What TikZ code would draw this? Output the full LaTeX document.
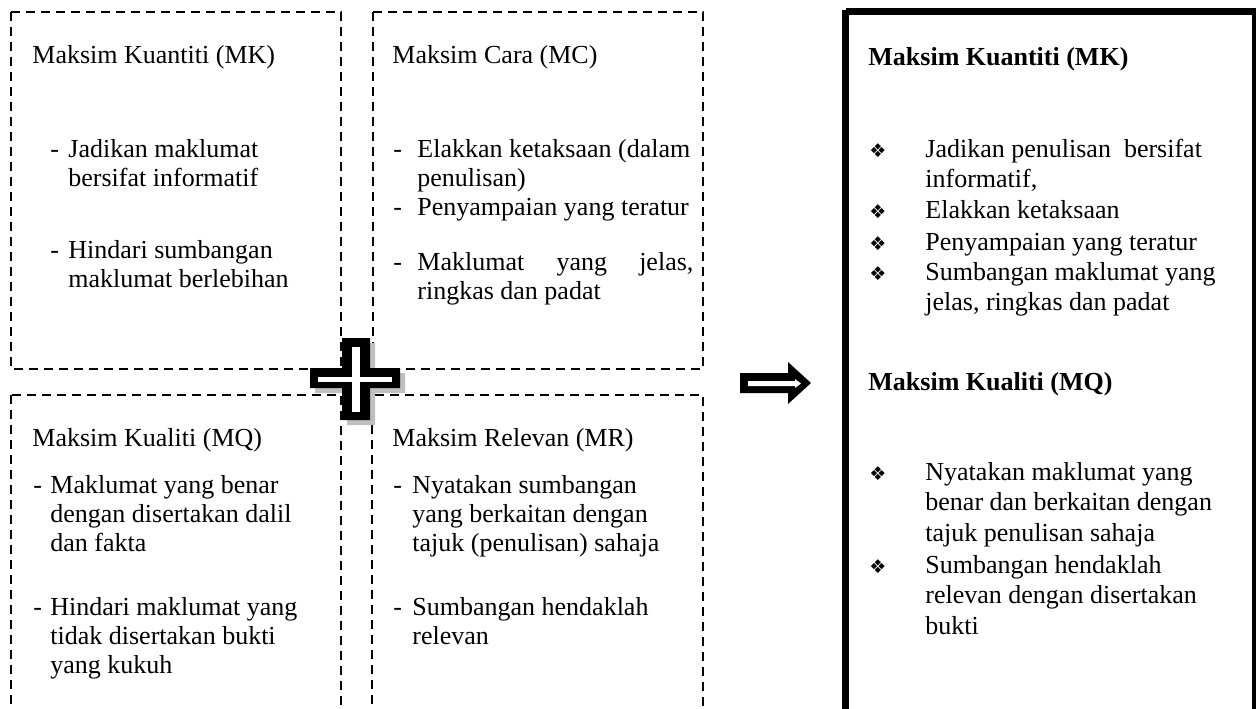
\documentclass[tikz,border=0pt]{standalone}
\usepackage{fontspec}
\setmainfont{Liberation Serif}
\newfontfamily\symfont{DejaVu Sans}
\newcommand{\rows}[1]{\begin{tabular}[t]{@{}l@{}}#1\end{tabular}}

\begin{document}
\begin{tikzpicture}[x=0.5pt, y=-0.5pt]
        \tikzset{>=latex,
          maxbox/.style={draw, line width=1pt, dash pattern=on 4.5pt off 3pt},
          txt/.style={anchor=base west, inner sep=0pt, font=\fontsize{13}{14.5}\selectfont},
          rtxt/.style={txt, font=\fontsize{13}{15.3}\selectfont},
          bul/.style={anchor=base west, inner sep=0pt, font=\symfont\fontsize{9.5}{9.5}\selectfont}}
        \useasboundingbox (0,0) rectangle (1256,708);
        \clip (0,0) rectangle (1256,708);
        \fill[white] (0,0) rectangle (1256,708);
        % the four maxims
        \draw[maxbox] (11,12) rectangle (341,369);
        \draw[maxbox] (373,12) rectangle (703,369);
        \draw[maxbox] (11,395) rectangle (341,730);
        \draw[maxbox] (372,395) rectangle (703,730);
        \node[txt] (MK) at (32,63) {Maksim Kuantiti (MK)};
        \node[txt] (MKd1) at (50,157) {-};
        \node[txt] (MK1) at (68,157) {\rows{Jadikan maklumat\\bersifat informatif}};
        \node[txt] (MKd2) at (50,258) {-};
        \node[txt] (MK2) at (68,258) {\rows{Hindari sumbangan\\maklumat berlebihan}};
        \node[txt] (MC) at (392,63) {Maksim Cara (MC)};
        \node[txt] (MCd1) at (393,157) {-};
        \node[txt] (MC1) at (417,157) {\rows{Elakkan ketaksaan (dalam\\penulisan)}};
        \node[txt] (MCd2) at (393,215) {-};
        \node[txt] (MC2) at (417,215) {Penyampaian yang teratur};
        \node[txt] (MCd3) at (393,270) {-};
        \node[txt] (MC3) at (417,270) {\rows{\makebox[138pt][s]{Maklumat yang jelas,}\\ringkas dan padat}};
        \node[txt] (MQ) at (32,446) {Maksim Kualiti (MQ)};
        \node[txt] (MQd1) at (33,493) {-};
        \node[txt] (MQ1) at (50,493) {\rows{Maklumat yang benar\\dengan disertakan dalil\\dan fakta}};
        \node[txt] (MQd2) at (33,615) {-};
        \node[txt] (MQ2) at (50,615) {\rows{Hindari maklumat yang\\tidak disertakan bukti\\yang kukuh}};
        \node[txt] (MR) at (392,446) {Maksim Relevan (MR)};
        \node[txt] (MRd1) at (393,493) {-};
        \node[txt] (MR1) at (412,493) {\rows{Nyatakan sumbangan\\yang berkaitan dengan\\tajuk (penulisan) sahaja}};
        \node[txt] (MRd2) at (393,615) {-};
        \node[txt] (MR2) at (412,615) {\rows{Sumbangan hendaklah\\relevan}};
        % plus
        \fill[black!25] (347,343) -- (375,343) -- (375,373) -- (405,373) -- (405,393) -- (375,393)
          -- (375,425) -- (347,425) -- (347,393) -- (315,393) -- (315,373) -- (347,373) -- cycle;
        \fill[black] (342,338) -- (370,338) -- (370,368) -- (400,368) -- (400,388) -- (370,388)
          -- (370,420) -- (342,420) -- (342,388) -- (310,388) -- (310,368) -- (342,368) -- cycle;
        \fill[white] (352,347) rectangle (360,412);
        \fill[white] (318,377) rectangle (392,382);
        % arrow
        \fill[black] (740,373) -- (788,373) -- (788,362) -- (811,383) -- (788,404) -- (788,393) -- (740,393) -- cycle;
        \fill[white] (748,381) -- (795,381) -- (795,379) -- (801,383.5) -- (795,388) -- (795,386) -- (748,386) -- cycle;
        % result
        \draw[line width=3.5pt] (845.5,11.5) -- (1255,11.5) -- (1255,730);
        \draw[line width=3.5pt] (845.5,9.5) -- (845.5,730);
        \node[txt, font=\bfseries\fontsize{13}{15.3}\selectfont] (RK) at (868,65) {Maksim Kuantiti (MK)};
        \node[bul] (RKb1) at (869,157) {❖};
        \node[rtxt] (RK1) at (925,157) {\rows{Jadikan penulisan\ \ bersifat\\informatif,}};
        \node[bul] (RKb2) at (869,218) {❖};
        \node[rtxt] (RK2) at (925,218) {Elakkan ketaksaan};
        \node[bul] (RKb3) at (869,250) {❖};
        \node[rtxt] (RK3) at (925,250) {Penyampaian yang teratur};
        \node[bul] (RKb4) at (869,280) {❖};
        \node[rtxt] (RK4) at (925,280) {\rows{Sumbangan maklumat yang\\jelas, ringkas dan padat}};
        \node[txt, font=\bfseries\fontsize{13}{15.3}\selectfont] (RQ) at (868,390) {Maksim Kualiti (MQ)};
        \node[bul] (RQb1) at (869,480) {❖};
        \node[rtxt] (RQ1) at (925,480) {\rows{Nyatakan maklumat yang\\benar dan berkaitan dengan\\tajuk penulisan sahaja}};
        \node[bul] (RQb2) at (869,573) {❖};
        \node[rtxt] (RQ2) at (925,573) {\rows{Sumbangan hendaklah\\relevan dengan disertakan\\bukti}};
    \end{tikzpicture}
\end{document}
